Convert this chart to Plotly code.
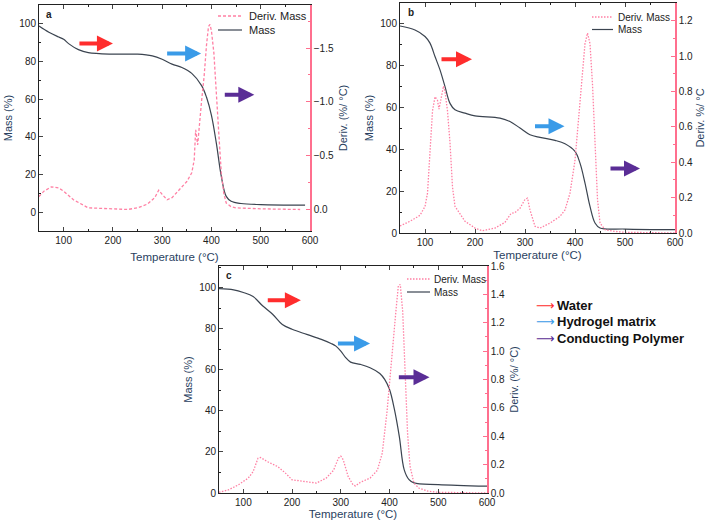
import plotly.graph_objects as go

# ---- panel a
temp_a = [50, 70, 90, 100, 110, 130, 150, 200, 250, 280, 300, 320, 340, 360, 380, 390, 400, 410,
          420, 430, 440, 460, 500, 590]
mass_a = [98.8, 95.5, 93.0, 91.8, 89.5, 86.3, 84.7, 83.9, 83.9, 83.0, 81.2, 78.6, 76.8, 73.7, 67.2,
          61.0, 51.4, 36.5, 19.0, 8.4, 5.8, 4.6, 4.0, 3.7]
dtemp_a = [50, 60, 75, 90, 100, 120, 140, 150, 200, 230, 250, 270, 285, 293, 300, 310, 320, 340,
           350, 360, 365, 368, 372, 380, 385, 390, 394, 397, 400, 405, 410, 415, 420, 425, 430,
           440, 450, 500, 580]
deriv_a = [-0.12, -0.17, -0.21, -0.20, -0.17, -0.09, -0.04, -0.015, -0.006, 0.0, -0.015, -0.05,
           -0.11, -0.18, -0.14, -0.09, -0.11, -0.21, -0.26, -0.34, -0.46, -0.74, -0.60, -1.01,
           -1.23, -1.53, -1.70, -1.72, -1.66, -1.45, -1.12, -0.70, -0.34, -0.15, -0.06, -0.025,
           -0.015, -0.006, 0.0]

# ---- panel b
temp_b = [50, 80, 100, 110, 120, 130, 140, 150, 160, 180, 200, 250, 270, 290, 310, 330, 360, 380,
          400, 410, 420, 430, 440, 450, 500, 600]
mass_b = [99.0, 97.1, 94.0, 90.8, 84.4, 78.0, 70.0, 62.0, 58.9, 57.3, 56.0, 54.9, 53.3, 50.2, 47.0,
          45.7, 44.3, 42.7, 39.0, 33.4, 23.9, 12.7, 4.8, 2.4, 1.9, 1.6]
dtemp_b = [50, 70, 90, 100, 105, 110, 115, 120, 125, 128, 133, 137, 140, 145, 150, 155, 160, 180,
           200, 215, 240, 260, 272, 280, 290, 300, 305, 310, 320, 330, 350, 370, 380, 390, 400,
           410, 420, 425, 430, 435, 440, 445, 450, 460, 480, 500, 600]
deriv_b = [0.04, 0.066, 0.10, 0.15, 0.225, 0.47, 0.69, 0.77, 0.75, 0.70, 0.77, 0.83, 0.80, 0.69,
           0.51, 0.26, 0.15, 0.066, 0.028, 0.013, 0.028, 0.06, 0.11, 0.116, 0.14, 0.19, 0.197,
           0.13, 0.038, 0.028, 0.056, 0.094, 0.13, 0.225, 0.41, 0.75, 1.07, 1.13, 1.07, 0.84,
           0.47, 0.19, 0.056, 0.019, 0.009, 0.004, 0.0]

# ---- panel c
temp_c = [50, 80, 100, 120, 140, 160, 180, 200, 230, 260, 280, 290, 300, 310, 320, 340, 360, 380,
          390, 400, 410, 420, 430, 440, 450, 500, 600]
mass_c = [99.5, 98.9, 97.6, 95.6, 91.0, 87.0, 82.0, 79.7, 77.2, 74.8, 72.8, 71.5, 69.1, 65.9, 63.7,
          62.6, 61.0, 58.2, 55.3, 50.4, 40.7, 27.6, 11.4, 6.5, 4.9, 4.1, 3.3]
dtemp_c = [50, 70, 90, 110, 120, 130, 135, 150, 170, 185, 200, 220, 250, 270, 285, 295, 300, 305,
           315, 325, 330, 340, 360, 375, 385, 395, 405, 413, 418, 422, 427, 432, 437, 442, 450,
           460, 480, 500, 600]
deriv_c = [0.005, 0.023, 0.058, 0.105, 0.15, 0.245, 0.25, 0.22, 0.187, 0.145, 0.093, 0.082, 0.07,
           0.105, 0.16, 0.245, 0.26, 0.234, 0.117, 0.058, 0.05, 0.075, 0.105, 0.16, 0.28, 0.58,
           1.0, 1.28, 1.46, 1.47, 1.28, 0.89, 0.42, 0.19, 0.07, 0.035, 0.012, 0.005, 0.0]

# arrows: (tail T, head T, mass level)
arrows_a = [(129, 200, 89.5), (307, 379, 84.2), (424, 487, 62.3)]
arrows_b = [(130, 194, 83.1), (317, 379, 51.0), (468, 530, 30.9)]
arrows_c = [(147, 218, 93.8), (291, 360, 72.8), (416, 482, 56.4)]
arrow_colors = ["#ff2d2d", "#3a9be8", "#5a2d96"]
key_labels = ["Water", "Hydrogel matrix", "Conducting Polymer"]
series_names = ["Deriv. Mass", "Mass"]

PINK = "#ff6f8e"
DERIV = "#ff80a4"
MASS = "#3b4450"
FONT = "Liberation Sans, Arial, sans-serif"
W, H = 708, 522


def px_x(a, b):
    return [a / W, b / W]


def px_y(top, bottom):
    return [1 - bottom / H, 1 - top / H]


fig = go.Figure()

# leg = (line x0, line x1, text x, first row y, row gap, font size) in window pixels
panels = [
    dict(tag="a", T=temp_a, M=mass_a, dT=dtemp_a, D=deriv_a, dash="3px,2px", arrows=arrows_a,
         xd=px_x(39, 310), yd=px_y(5, 231), yr=[-10, 110], dr=[0.2, -1.9], dd=0.5,
         dtitle="Deriv. (%/ °C)", leg=(218, 242, 247, 16, 14, 11), rs=6, xs=7),
    dict(tag="b", T=temp_b, M=mass_b, dT=dtemp_b, D=deriv_b, dash="1.5px,1.5px", arrows=arrows_b,
         xd=px_x(400, 675), yd=px_y(3, 233), yr=[0, 110], dr=[0, 1.3], dd=0.2,
         dtitle="Deriv. %/ °C", leg=(592, 613, 616, 17, 12.5, 10), rs=4, xs=3),
    dict(tag="c", T=temp_c, M=mass_c, dT=dtemp_c, D=deriv_c, dash="1.5px,1.5px", arrows=arrows_c,
         xd=px_x(219, 487), yd=px_y(266, 493), yr=[0, 110.5], dr=[0, 1.6], dd=0.2,
         dtitle="Deriv. (%/ °C)", leg=(407, 430, 432, 279, 13, 10), rs=6, xs=2),
]

layout = {}
for i, p in enumerate(panels):
    n = i + 1
    xa = "x" if n == 1 else f"x{n}"
    ym = "y" if i == 0 else f"y{2 * i + 1}"
    yd = f"y{2 * i + 2}"

    fig.add_trace(go.Scatter(x=p["dT"], y=p["D"], name="Deriv. Mass", mode="lines",
                             line=dict(color=DERIV, width=1.3, dash=p["dash"]),
                             xaxis=xa, yaxis=yd, showlegend=False))
    fig.add_trace(go.Scatter(x=p["T"], y=p["M"], name="Mass", mode="lines",
                             line=dict(color=MASS, width=1.2, shape="spline"),
                             xaxis=xa, yaxis=ym, showlegend=False))

    xkey = "xaxis" if n == 1 else f"xaxis{n}"
    ymkey = "yaxis" if i == 0 else f"yaxis{2 * i + 1}"
    ydkey = f"yaxis{2 * i + 2}"
    tick = dict(family=FONT, size=10, color="#222")
    layout[xkey] = dict(domain=p["xd"], anchor=ym, range=[50, 600], dtick=100, automargin=False,
                        showline=True, linecolor="#222", linewidth=1, mirror="ticks",
                        ticks="inside", ticklen=4, tickfont=tick, showgrid=False, zeroline=False,
                        minor=dict(ticks="inside", ticklen=2, dtick=50, tickcolor="#222"),
                        title=dict(text="Temperature (°C)", font=dict(family=FONT, size=11.5),
                                   standoff=p["xs"]))
    layout[ymkey] = dict(domain=p["yd"], anchor=xa, range=p["yr"], dtick=20, automargin=False,
                         showline=True, linecolor="#222", linewidth=1,
                         ticks="inside", ticklen=4, tickfont=tick, showgrid=False, zeroline=False,
                         minor=dict(ticks="inside", ticklen=2, dtick=10, tickcolor="#222"),
                         title=dict(text="Mass (%)", font=dict(family=FONT, size=11),
                                    standoff=4))
    layout[ydkey] = dict(overlaying=ym, side="right", anchor=xa, range=p["dr"], dtick=p["dd"],
                         automargin=False,
                         tickformat=".1f", showline=True, linecolor=PINK, linewidth=1.5,
                         ticks="inside", ticklen=4, tickcolor=PINK, tickfont=tick,
                         showgrid=False, zeroline=False,
                         minor=dict(ticks="inside", ticklen=2, dtick=p["dd"] / 2,
                                    tickcolor=PINK),
                         title=dict(text=p["dtitle"], font=dict(family=FONT, size=11),
                                    standoff=p["rs"]))

    # hand-built legend (plotly's own rows are too tall for this layout)
    lx0, lx1, tx, ry, gap, fs = p["leg"]
    styles = [dict(color=DERIV, width=1.3, dash=p["dash"]), dict(color=MASS, width=1.2)]
    for r, (name, st) in enumerate(zip(series_names, styles)):
        yy = 1 - (ry + gap * r) / H
        fig.add_shape(type="line", xref="paper", yref="paper", x0=lx0 / W, x1=lx1 / W,
                      y0=yy, y1=yy, line=st)
        fig.add_annotation(text=name, xref="paper", yref="paper", x=tx / W, y=yy,
                           xanchor="left", yanchor="middle", showarrow=False,
                           font=dict(family=FONT, size=fs, color="#222"))

    fig.add_annotation(text=f"<b>{p['tag']}</b>", xref=f"{xa} domain", yref=f"{ym} domain",
                       x=0.02, y=0.99, xanchor="left", yanchor="top", showarrow=False,
                       font=dict(family=FONT, size=10, color="#222"))
    for (t0, t1, m), col in zip(p["arrows"], arrow_colors):
        fig.add_annotation(x=t1, y=m, ax=t0, ay=m, xref=xa, yref=ym, axref=xa, ayref=ym,
                           text="", showarrow=True, arrowhead=2, arrowsize=0.8,
                           arrowwidth=4, arrowcolor=col)

# colour key for the arrows
for k, (lab, col) in enumerate(zip(key_labels, arrow_colors)):
    yy = 1 - (305 + 16.5 * k) / H
    fig.add_annotation(text="⟶", xref="paper", yref="paper", x=545 / W, y=yy,
                       xanchor="center", yanchor="middle", showarrow=False,
                       font=dict(family="DejaVu Sans", size=13, color=col))
    fig.add_annotation(text=f"<b>{lab}</b>", xref="paper", yref="paper", x=555 / W, y=yy,
                       xanchor="left", yanchor="middle", showarrow=False,
                       font=dict(family=FONT, size=13, color="#111"))

fig.update_layout(width=W, height=H, margin=dict(l=0, r=0, t=0, b=0),
                  paper_bgcolor="white", plot_bgcolor="white", showlegend=False,
                  font=dict(family=FONT), **layout)

# the page body has a default 8px margin; drop it so the figure fills the window
fig.write_html("out.html", config={"displayModeBar": False},
               post_script="document.body.style.margin = '0';")
